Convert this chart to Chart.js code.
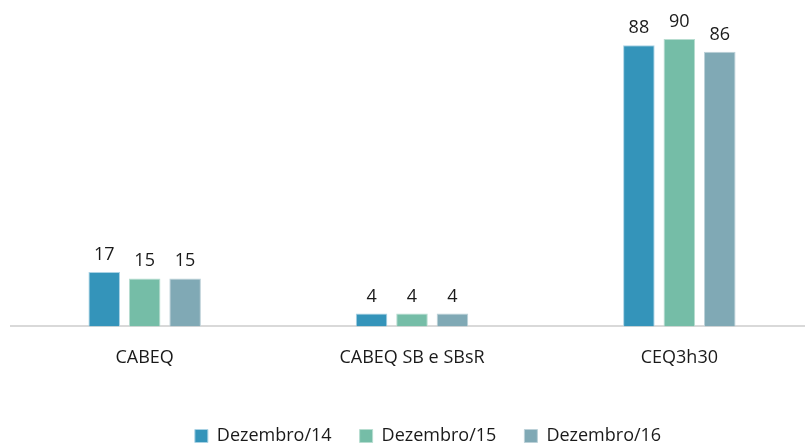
<!DOCTYPE html>
<html lang="pt">
<head>
  <meta charset="UTF-8">
  <title>Dezembro 14-16</title>
  <script src="https://cdn.jsdelivr.net/npm/chart.js"></script>
  <style>
    html, body { margin: 0; padding: 0; background: #fff; overflow: hidden; }
    #wrap { width: 854px; height: 445px; }
  </style>
</head>
<body>
  <div id="wrap"><canvas id="barChart"></canvas></div>

  <script>
    const categories = ['CABEQ', 'CABEQ SB e SBsR', 'CEQ3h30'];
    const seriesNames = ['Dezembro/14', 'Dezembro/15', 'Dezembro/16'];
    const dez14 = [17, 4, 88];
    const dez15 = [15, 4, 90];
    const dez16 = [15, 4, 86];

    const colors = ['#3494ba', '#75bda7', '#80a9b5'];
    const borders = ['#a9d2e4', '#b7ddd0', '#bcd1d8'];
    const FONT = '"Open Sans", sans-serif';

    // value labels above each bar
    const valueLabels = {
      id: 'valueLabels',
      afterDatasetsDraw(chart) {
        const ctx = chart.ctx;
        ctx.save();
        ctx.font = '18px ' + FONT;
        ctx.fillStyle = '#1a1a1a';
        ctx.textAlign = 'center';
        ctx.textBaseline = 'alphabetic';
        chart.data.datasets.forEach((ds, i) => {
          chart.getDatasetMeta(i).data.forEach((bar, j) => {
            ctx.fillText(ds.data[j], bar.x, bar.y - 12);
          });
        });
        ctx.restore();
      }
    };

    // nudge the legend row a bit to the right
    const legendShift = {
      id: 'legendShift',
      afterLayout(chart) {
        chart.legend.left += 16;
        chart.legend.right += 16;
      }
    };

    const data = [dez14, dez15, dez16];
    new Chart(document.getElementById('barChart'), {
      type: 'bar',
      data: {
        labels: categories,
        datasets: seriesNames.map((name, i) => ({
          label: name,
          data: data[i],
          backgroundColor: colors[i],
          borderColor: borders[i],
          borderWidth: 1,
          barPercentage: 0.78,
          categoryPercentage: 0.454
        }))
      },
      options: {
        responsive: true,
        maintainAspectRatio: false,
        animation: false,
        layout: { padding: { left: 11, right: 41, top: 7, bottom: -10 } },
        scales: {
          x: {
            grid: { display: false },
            border: { color: '#d9d9d9', width: 2 },
            ticks: {
              color: '#1a1a1a',
              font: { family: FONT, size: 18 },
              padding: 13
            },
            afterFit(scale) { scale.height += 17; }
          },
          y: {
            display: false,
            min: 0,
            max: 100
          }
        },
        plugins: {
          legend: {
            position: 'bottom',
            labels: {
              color: '#1a1a1a',
              boxWidth: 13,
              boxHeight: 13,
              padding: 28,
              font: { family: FONT, size: 18 }
            }
          },
          tooltip: { enabled: false }
        }
      },
      plugins: [valueLabels, legendShift]
    });
  </script>
</body>
</html>
